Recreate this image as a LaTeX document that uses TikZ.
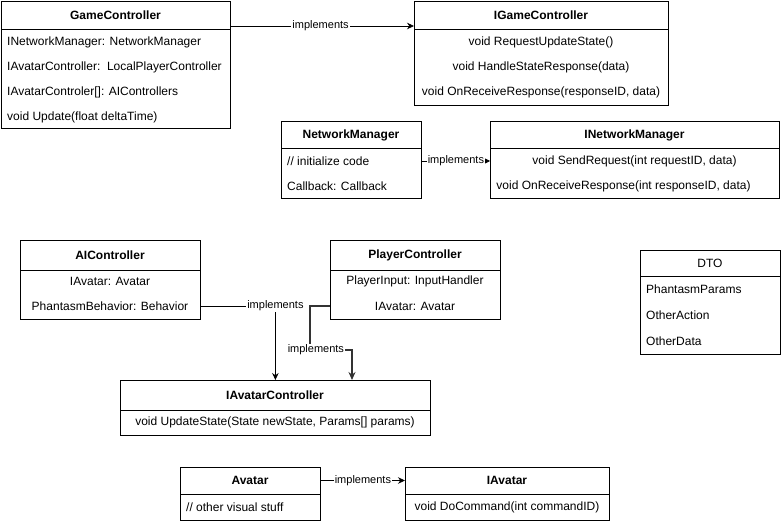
\documentclass[tikz,border=0pt]{standalone}
\usepackage{fontspec}
\setmainfont{Liberation Sans}
\usetikzlibrary{arrows.meta,calc}

\tikzset{
  frame/.style={draw=black, line width=0.8pt, fill=white, inner sep=0pt, anchor=north west},
  sepline/.style={draw=black, line width=0.8pt},
  title/.style={font=\fontsize{12}{14}\selectfont\bfseries, inner sep=0pt},
  plaintitle/.style={font=\fontsize{12}{14}\selectfont, inner sep=0pt},
  member/.style={font=\fontsize{12}{14}\selectfont, inner sep=0pt},
  lmember/.style={member, anchor=west},
  relabel/.style={font=\fontsize{11}{13}\selectfont, fill=white, inner sep=1pt},
  realize/.style={draw=black, line width=0.8pt, -{Stealth[length=7pt,width=6.5pt]}},
  realizesmall/.style={draw=black, line width=0.8pt, -{Triangle[length=5pt,width=5pt]}},
  realizebold/.style={draw=black!80, line width=1.6pt, -{Stealth[length=8pt,width=7pt]}},
}

% class frame: name, x1, y1, x2, y2, y of the line under the title
\newcommand\classframe[6]{%
  \node[frame, minimum width={(#4)-(#2)}, minimum height={(#5)-(#3)}] (#1) at (#2,#3) {};
  \draw[sepline] (#1.west |- 0,#6) -- (#1.east |- 0,#6);
}

\begin{document}
\begin{tikzpicture}[x=1pt,y=-1pt]
\useasboundingbox (0,0) rectangle (781,521);

% GameController
\classframe{gc}{1}{1}{230}{128}{29}
\node[title] (gc-t) at (115.5,15) {GameController};
\node[lmember] (gc-1) at (7,42) {INetworkManager: NetworkManager};
\node[lmember] (gc-2) at (7,67) {IAvatarController:\ \ LocalPlayerController};
\node[lmember] (gc-3) at (7,92) {IAvatarControler[]: AIControllers};
\node[lmember] (gc-4) at (7,117) {void Update(float deltaTime)};

% IGameController
\classframe{igc}{414}{1}{668}{105}{29}
\node[title] (igc-t) at (541,15) {IGameController};
\node[member] (igc-1) at (541,42) {void RequestUpdateState()};
\node[member] (igc-2) at (541,67) {void HandleStateResponse(data)};
\node[member] (igc-3) at (541,92) {void OnReceiveResponse(responseID, data)};

% NetworkManager
\classframe{nm}{281}{121}{421}{198}{148}
\node[title] (nm-t) at (351,135) {NetworkManager};
\node[lmember] (nm-1) at (287,161) {// initialize code};
\node[lmember] (nm-2) at (287,186) {Callback: Callback};

% INetworkManager
\classframe{inm}{490}{121}{779}{198}{148}
\node[title] (inm-t) at (634.5,135) {INetworkManager};
\node[member] (inm-1) at (634.5,161) {void SendRequest(int requestID, data)};
\node[member] (inm-2) at (623.5,186) {void OnReceiveResponse(int responseID, data)};

% AIController
\classframe{ai}{20}{240}{200}{319}{270}
\node[title] (ai-t) at (110,255) {AIController};
\node[member] (ai-1) at (110,281) {IAvatar: Avatar};
\node[member] (ai-2) at (110,306) {PhantasmBehavior: Behavior};

% PlayerController
\classframe{pc}{330}{240}{500}{319}{270}
\node[title] (pc-t) at (415,255) {PlayerController};
\node[member] (pc-1) at (415,281) {PlayerInput: InputHandler};
\node[member] (pc-2) at (415,306) {IAvatar: Avatar};

% IAvatarController
\classframe{iac}{120}{380}{430}{435}{410}
\node[title] (iac-t) at (275,395) {IAvatarController};
\node[member] (iac-1) at (275,422.5) {void UpdateState(State newState, Params[] params)};

% DTO
\classframe{dto}{640}{250}{780}{354}{276}
\node[plaintitle] (dto-t) at (710,263) {DTO};
\node[lmember] (dto-1) at (646,289) {PhantasmParams};
\node[lmember] (dto-2) at (646,315) {OtherAction};
\node[lmember] (dto-3) at (646,341) {OtherData};

% Avatar
\classframe{av}{180}{467}{320}{520}{494}
\node[title] (av-t) at (250,480.5) {Avatar};
\node[lmember] (av-1) at (186,507) {// other visual stuff};

% IAvatar
\classframe{iav}{405}{467}{609}{520}{494}
\node[title] (iav-t) at (507,480.5) {IAvatar};
\node[member] (iav-1) at (507,507) {void DoCommand(int commandID)};

% realization connectors
\draw[realize] ($(gc.north east)+(0,25)$) -- node[relabel, pos=0.49] {implements} ($(igc.north west)+(0,25)$);
\draw[realizesmall] (nm.east |- nm-1) -- node[relabel] {implements} (inm.west |- nm-1);
\draw[realize] (ai.east |- ai-2) -| node[relabel] {implements} (iac.north);
\coordinate (pcb1) at (310,306);
\coordinate (pcb2) at (310,350);
\coordinate (pcb3) at (352,350);
\draw[realizebold] (pc.west |- pc-2) -- (pcb1) -- (pcb2)
  -- node[relabel, text=black, pos=0.14, font=\fontsize{11}{13}\selectfont] {implements} (pcb3)
  -- (pcb3 |- iac.north);
\draw[realize] (av.north east |- av-t) -- node[relabel, pos=0.5] {implements} (iav.west |- av-t);

\end{tikzpicture}
\end{document}
